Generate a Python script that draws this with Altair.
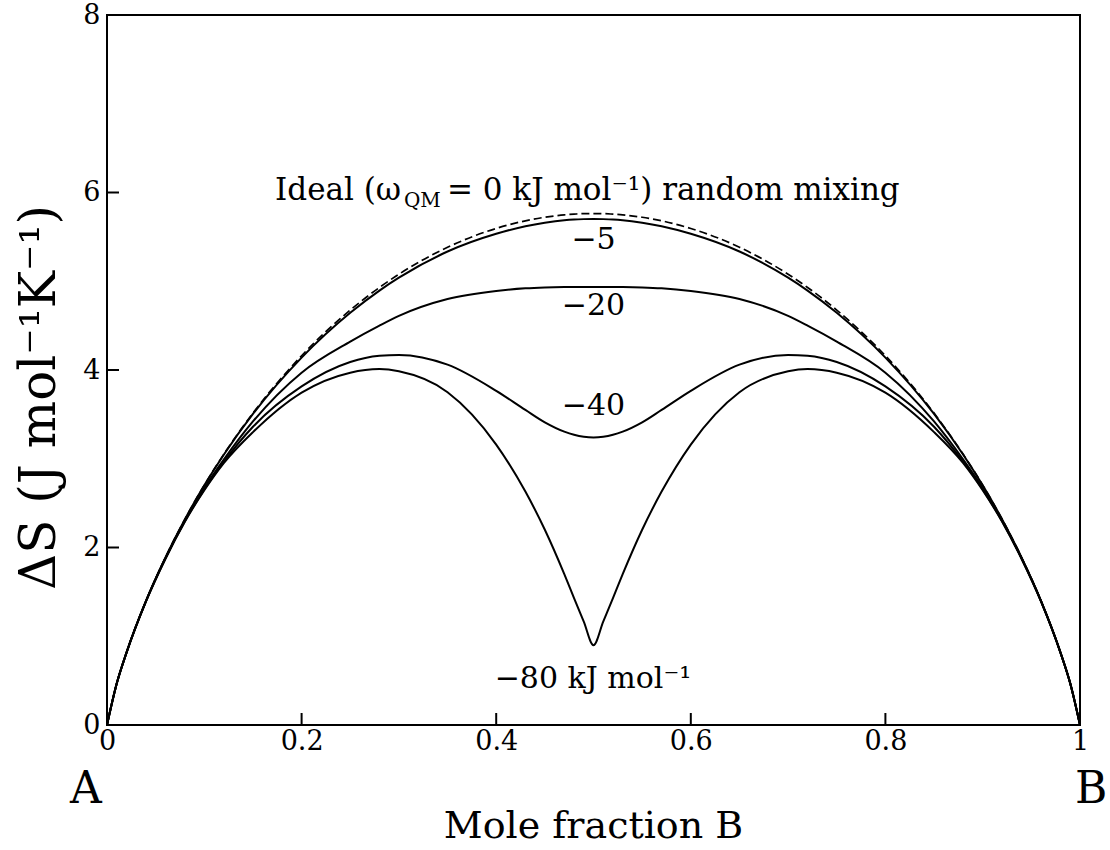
import altair as alt
import pandas as pd

# Mole fraction of B (x positions where the curves were read)
X_FRAC = [0, 0.01, 0.02, 0.04, 0.06, 0.08, 0.10, 0.12, 0.15, 0.20, 0.25, 0.28, 0.30,
          0.35, 0.40, 0.43, 0.45, 0.47, 0.48, 0.49, 0.50, 0.51, 0.52, 0.53, 0.55, 0.57,
          0.60, 0.65, 0.70, 0.72, 0.75, 0.80, 0.85, 0.88, 0.90, 0.92, 0.94, 0.96, 0.98,
          0.99, 1.00]

# Ideal random mixing (dashed)
DS_IDEAL = [0, 0.467, 0.815, 1.397, 1.887, 2.318, 2.703, 3.050, 3.514, 4.161, 4.675, 4.930, 5.079,
            5.383, 5.595, 5.681, 5.721, 5.748, 5.756, 5.762, 5.763, 5.762, 5.756, 5.748, 5.721, 5.681,
            5.595, 5.383, 5.079, 4.930, 4.675, 4.161, 3.514, 3.050, 2.703, 2.318, 1.887, 1.397, 0.815,
            0.467, 0]
# omega = -5 kJ/mol
DS_M5 = [0, 0.467, 0.815, 1.397, 1.886, 2.316, 2.700, 3.045, 3.505, 4.140, 4.645, 4.895, 5.040,
         5.335, 5.535, 5.620, 5.660, 5.688, 5.696, 5.700, 5.702, 5.700, 5.696, 5.688, 5.660, 5.620,
         5.535, 5.335, 5.040, 4.895, 4.645, 4.140, 3.505, 3.045, 2.700, 2.316, 1.886, 1.397, 0.815,
         0.467, 0]
# omega = -20 kJ/mol
DS_M20 = [0, 0.467, 0.814, 1.395, 1.880, 2.303, 2.670, 2.990, 3.420, 3.970, 4.320, 4.500, 4.610,
          4.800, 4.890, 4.920, 4.930, 4.935, 4.936, 4.936, 4.936, 4.936, 4.936, 4.935, 4.930, 4.920,
          4.890, 4.800, 4.610, 4.500, 4.320, 3.970, 3.420, 2.990, 2.670, 2.303, 1.880, 1.395, 0.814,
          0.467, 0]
# omega = -40 kJ/mol
DS_M40 = [0, 0.467, 0.813, 1.392, 1.874, 2.295, 2.655, 2.965, 3.360, 3.815, 4.090, 4.160, 4.170,
          4.060, 3.765, 3.550, 3.410, 3.305, 3.270, 3.248, 3.240, 3.248, 3.270, 3.305, 3.410, 3.550,
          3.765, 4.060, 4.170, 4.160, 4.090, 3.815, 3.360, 2.965, 2.655, 2.295, 1.874, 1.392, 0.813,
          0.467, 0]
# omega = -80 kJ/mol
DS_M80 = [0, 0.467, 0.813, 1.390, 1.871, 2.290, 2.645, 2.950, 3.300, 3.745, 3.970, 4.010, 3.985,
          3.750, 3.160, 2.630, 2.200, 1.700, 1.430, 1.165, 0.900, 1.165, 1.430, 1.700, 2.200, 2.630,
          3.160, 3.750, 3.985, 4.010, 3.970, 3.745, 3.300, 2.950, 2.645, 2.290, 1.871, 1.390, 0.813,
          0.467, 0]

X_TICKS = [0, 0.2, 0.4, 0.6, 0.8, 1]
Y_TICKS = [0, 2, 4, 6, 8]
X_INNER_TICKS = [0.2, 0.4, 0.6, 0.8]
Y_INNER_TICKS = [2, 4, 6]

# Curve labels (centered)
LBL_TEXT = ["\u22125", "\u221220", "\u221240", "\u221280 kJ mol\u207b\u00b9"]
LBL_X = [0.5, 0.5, 0.5, 0.4995]
LBL_Y = [5.465, 4.72, 3.594, 0.52]

FONT = "DejaVu Serif"

solid = []
for name, vals in [("-5", DS_M5), ("-20", DS_M20), ("-40", DS_M40), ("-80", DS_M80)]:
    for x, v in zip(X_FRAC, vals):
        solid.append({"x": x, "dS": v, "series": name})
solid_df = pd.DataFrame(solid)
ideal_df = pd.DataFrame({"x": X_FRAC, "dS": DS_IDEAL})

xs = alt.Scale(domain=[0, 1], nice=False, zero=False)
ys = alt.Scale(domain=[0, 8], nice=False)

x_axis = alt.Axis(values=X_TICKS, format="~g", ticks=False, domain=False, grid=False,
                  labelFont=FONT, labelFontSize=27, labelColor="black", labelPadding=3,
                  labelFlush=False, labelOverlap=False,
                  title="Mole fraction B", titleFont=FONT, titleFontSize=38,
                  titleFontWeight="normal", titleColor="black", titleX=486, titleY=112,
                  titleAlign="center", titleBaseline="alphabetic")
y_axis = alt.Axis(values=Y_TICKS, format="~g", ticks=False, domain=False, grid=False,
                  labelFont=FONT, labelFontSize=27, labelColor="black", labelPadding=7,
                  labelFlush=False, labelOverlap=False,
                  title="\u0394S (J mol\u207b\u00b9K\u207b\u00b9)", titleFont=FONT, titleFontSize=50,
                  titleFontWeight="normal", titleColor="black", titleX=-68, titleY=382,
                  titleAngle=270, titleAlign="center", titleBaseline="middle")

lines = alt.Chart(solid_df).mark_line(color="black", strokeWidth=2, interpolate="monotone").encode(
    x=alt.X("x:Q", scale=xs, axis=x_axis),
    y=alt.Y("dS:Q", scale=ys, axis=y_axis),
    detail="series:N",
)
ideal = alt.Chart(ideal_df).mark_line(color="black", strokeWidth=1.7, strokeDash=[8, 4],
                                      interpolate="monotone").encode(
    x=alt.X("x:Q", scale=xs), y=alt.Y("dS:Q", scale=ys))

xt = alt.Chart(pd.DataFrame({"t": X_INNER_TICKS})).mark_rule(color="black", strokeWidth=2).encode(
    x=alt.X("t:Q", scale=xs), y=alt.value(710), y2=alt.value(698))
yt = alt.Chart(pd.DataFrame({"t": Y_INNER_TICKS})).mark_rule(color="black", strokeWidth=2).encode(
    y=alt.Y("t:Q", scale=ys), x=alt.value(0), x2=alt.value(12))

labels = alt.Chart(pd.DataFrame({"x": LBL_X, "y": LBL_Y, "t": LBL_TEXT})).mark_text(
    font=FONT, fontSize=30, color="black", align="center", baseline="middle").encode(
    x=alt.X("x:Q", scale=xs), y=alt.Y("y:Q", scale=ys), text="t:N")

# "Ideal (ω_QM = 0 kJ mol⁻¹) random mixing" built from pieces
ideal_main = alt.Chart(pd.DataFrame({
    "x": [0.1727, 0.3494], "y": [5.915, 5.915],
    "t": ["Ideal (\u03c9", "= 0 kJ mol\u207b\u00b9) random mixing"]})).mark_text(
    font=FONT, fontSize=31, color="black", align="left", baseline="alphabetic").encode(
    x=alt.X("x:Q", scale=xs), y=alt.Y("y:Q", scale=ys), text="t:N")
ideal_sub = alt.Chart(pd.DataFrame({"x": [0.3052], "y": [5.837], "t": ["QM"]})).mark_text(
    font=FONT, fontSize=20, color="black", align="left", baseline="alphabetic").encode(
    x=alt.X("x:Q", scale=xs), y=alt.Y("y:Q", scale=ys), text="t:N")

end_a = alt.Chart(pd.DataFrame({"x": [-0.0216], "y": [-0.732], "t": ["A"]})).mark_text(
    font=FONT, fontSize=44, color="black", align="center", baseline="middle").encode(
    x=alt.X("x:Q", scale=xs), y=alt.Y("y:Q", scale=ys), text="t:N")
end_b = alt.Chart(pd.DataFrame({"x": [0.9949], "y": [-0.732], "t": ["B"]})).mark_text(
    font=FONT, fontSize=44, color="black", align="left", baseline="middle").encode(
    x=alt.X("x:Q", scale=xs), y=alt.Y("y:Q", scale=ys), text="t:N")

chart = alt.layer(lines, ideal, xt, yt, labels, ideal_main, ideal_sub, end_a, end_b).properties(
    width=973, height=710,
    padding={"left": 107, "top": 15, "right": 30, "bottom": 125},
    autosize=alt.AutoSizeParams(type="none"),
    background="white",
).configure_view(stroke="black", strokeWidth=2)

chart.save("out.html", embed_options={"renderer": "svg", "actions": False})
